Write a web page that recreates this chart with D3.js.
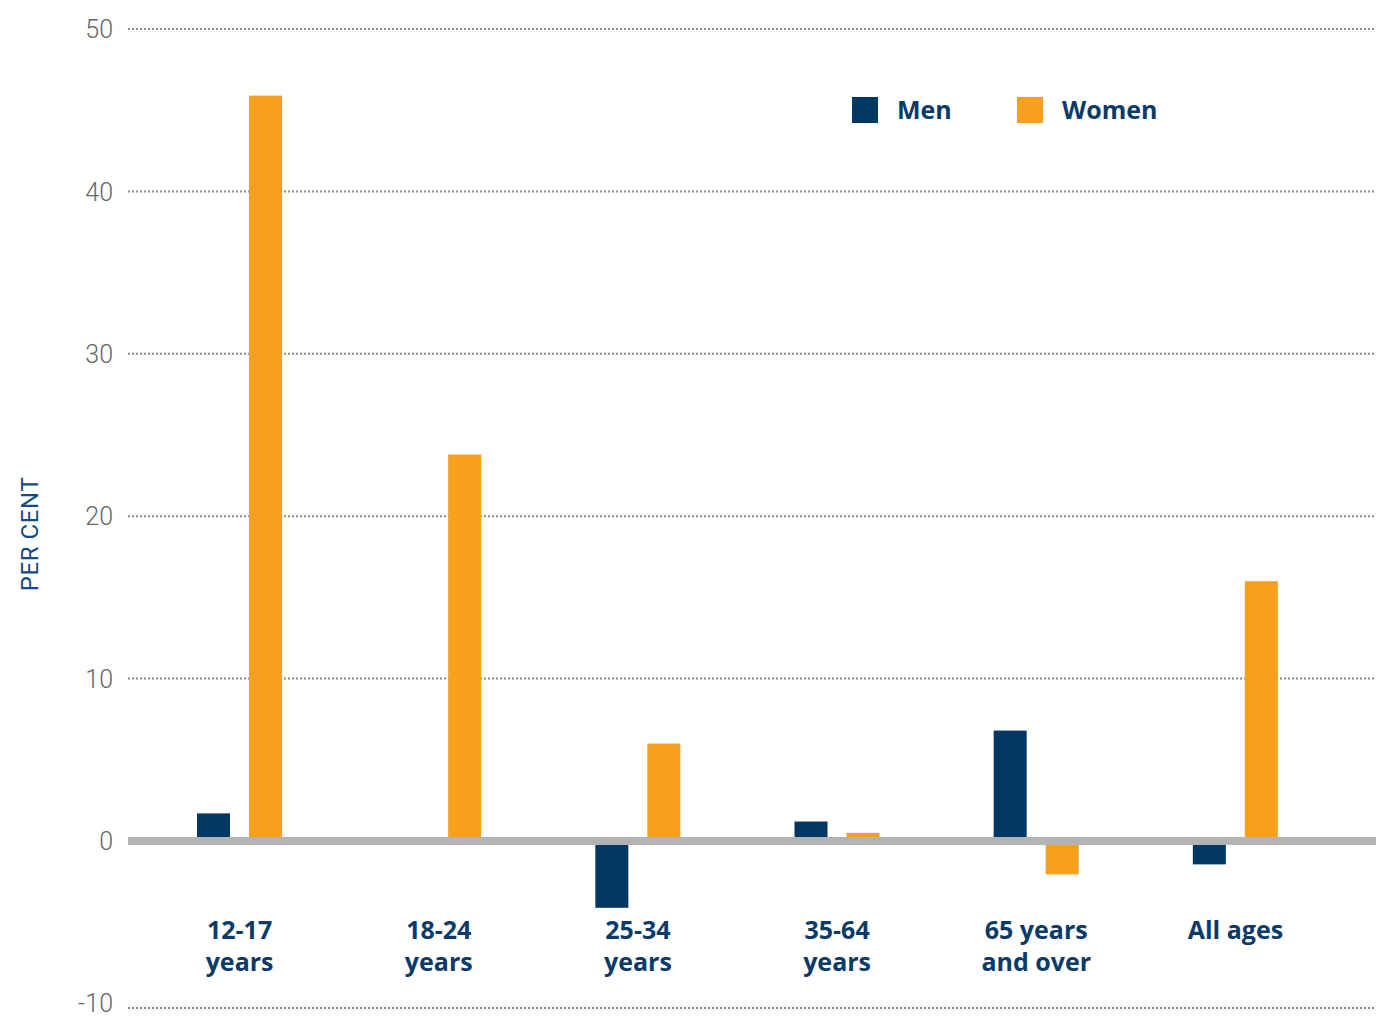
<!DOCTYPE html>
<html>
<head>
<meta charset="utf-8">
<script src="https://cdn.jsdelivr.net/npm/d3@7"></script>
<style>
  html, body { margin: 0; padding: 0; background: #ffffff; }
  svg { display: block; }
</style>
</head>
<body>
<svg id="chart" width="1376" height="1017"></svg>
<script>
// Change in share by age group, per cent
const categories = [["12-17", "years"], ["18-24", "years"], ["25-34", "years"], ["35-64", "years"], ["65 years", "and over"], ["All ages"]];
const categoryKeys = ["12-17", "18-24", "25-34", "35-64", "65+", "All"];
const seriesNames = ["Men", "Women"];
const menValues = [1.7, 0, -4.0, 1.2, 6.8, -1.4];
const womenValues = [45.9, 23.8, 6.0, 0.5, -2.0, 16.0];
const yTicks = [-10, 0, 10, 20, 30, 40, 50];

const colors = { Men: "#023764", Women: "#f79f1f" };
const navy = "#0a3a68";

const svg = d3.select("#chart");
const W = 1376;

const rows = categoryKeys.map((k, i) => ({ key: k, label: categories[i], Men: menValues[i], Women: womenValues[i] }));

const y = d3.scaleLinear().domain([-10, 0, 50]).range([1008, 841, 29]);
const x0 = d3.scaleBand().domain(categoryKeys).range([140, 1335]).padding(0);
const x1 = d3.scaleBand().domain(seriesNames).range([57, 142]).paddingInner(0.365).paddingOuter(0);

// dotted gridlines
const gridX0 = 128;
svg.append("g").selectAll("line")
  .data(yTicks.filter(t => t !== 0))
  .join("line")
  .attr("x1", gridX0).attr("x2", W)
  .attr("y1", d => y(d)).attr("y2", d => y(d))
  .attr("stroke", "#8a8a8a")
  .attr("stroke-width", 2)
  .attr("stroke-dasharray", "2,2");

// y-axis labels (plain hyphen for negatives)
const yAxis = d3.axisLeft(y).tickValues(yTicks).tickSize(0).tickPadding(0).tickFormat(d => String(d));
const yg = svg.append("g").attr("transform", "translate(113,0)").call(yAxis);
yg.select(".domain").remove();
yg.selectAll("text")
  .attr("font-family", "Roboto, 'Liberation Sans', sans-serif")
  .attr("font-weight", 300)
  .attr("font-size", 25)
  .attr("fill", "#666666")
  .attr("dy", d => d === -10 ? "0.12em" : "0.35em");

// y-axis title
svg.append("text")
  .attr("transform", "translate(38,534) rotate(-90)")
  .attr("text-anchor", "middle")
  .attr("font-family", "Roboto, 'Liberation Sans', sans-serif")
  .attr("font-weight", 400)
  .attr("font-size", 24)
  .attr("letter-spacing", 0.6)
  .attr("fill", "#134c84")
  .text("PER CENT");

// bars
const groups = svg.append("g").selectAll("g")
  .data(rows)
  .join("g")
  .attr("transform", d => `translate(${x0(d.key)},0)`);

groups.selectAll("rect")
  .data(d => seriesNames.map(s => ({ s, v: d[s] })))
  .join("rect")
  .attr("x", d => x1(d.s))
  .attr("width", x1.bandwidth())
  .attr("y", d => Math.min(y(d.v), y(0)))
  .attr("height", d => Math.abs(y(d.v) - y(0)))
  .attr("fill", d => colors[d.s]);

// zero line
svg.append("line")
  .attr("x1", gridX0).attr("x2", W)
  .attr("y1", y(0)).attr("y2", y(0))
  .attr("stroke", "#b3b3b6")
  .attr("stroke-width", 8);

// category labels
const catText = svg.append("g").selectAll("text")
  .data(rows)
  .join("text")
  .attr("x", d => x0(d.key) + x0.bandwidth() / 2)
  .attr("y", 939)
  .attr("text-anchor", "middle")
  .attr("font-family", "'Open Sans', 'Noto Sans', sans-serif")
  .attr("font-weight", 700)
  .attr("font-size", 25)
  .attr("fill", navy);
catText.selectAll("tspan")
  .data(d => d.label)
  .join("tspan")
  .attr("x", function () { return d3.select(this.parentNode).attr("x"); })
  .attr("dy", (d, i) => i === 0 ? 0 : 32)
  .text(d => d);

// legend
const legendPos = { Men: 852, Women: 1017 };
const lg = svg.append("g").selectAll("g")
  .data(seriesNames)
  .join("g")
  .attr("transform", d => `translate(${legendPos[d]},97)`);
lg.append("rect")
  .attr("width", 26).attr("height", 26)
  .attr("fill", d => colors[d]);
lg.append("text")
  .attr("x", 45).attr("y", 22)
  .attr("font-family", "'Open Sans', 'Noto Sans', sans-serif")
  .attr("font-weight", 700)
  .attr("font-size", 25)
  .attr("fill", navy)
  .text(d => d);
</script>
</body>
</html>
